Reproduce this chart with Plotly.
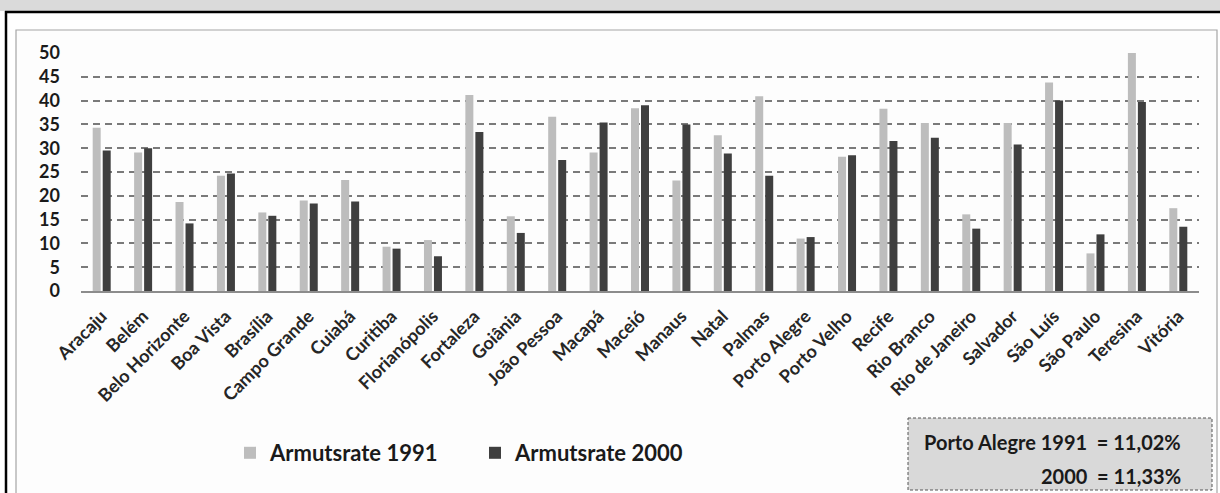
import plotly.graph_objects as go

cities = ["Aracaju", "Belém", "Belo Horizonte", "Boa Vista", "Brasília", "Campo Grande",
          "Cuiabá", "Curitiba", "Florianópolis", "Fortaleza", "Goiânia", "João Pessoa",
          "Macapá", "Maceió", "Manaus", "Natal", "Palmas", "Porto Alegre", "Porto Velho",
          "Recife", "Rio Branco", "Rio de Janeiro", "Salvador", "São Luís", "São Paulo",
          "Teresina", "Vitória"]
rate_1991 = [34.3, 29.1, 18.7, 24.2, 16.5, 19.0, 23.3, 9.3, 10.7, 41.2, 15.7, 36.6, 29.1,
             38.4, 23.2, 32.7, 40.9, 11.02, 28.2, 38.3, 35.3, 16.1, 35.3, 43.8, 7.9, 50.0, 17.4]
rate_2000 = [29.5, 30.0, 14.2, 24.7, 15.8, 18.4, 18.8, 8.9, 7.3, 33.4, 12.2, 27.5, 35.4,
             39.0, 35.0, 28.9, 24.2, 11.33, 28.5, 31.5, 32.2, 13.1, 30.8, 40.0, 11.9, 39.7, 13.5]
y_ticks = list(range(0, 51, 5))

W, H = 1220, 493
L, R, T, B = 81, 1199, 53, 291  # plot area in pixels

def px(x):
    return (x - L) / (R - L)

def py(y):
    return (B - y) / (B - T)

FONT = "Lato"
fig = go.Figure()
fig.add_trace(go.Bar(x=cities, y=rate_1991, name="Armutsrate 1991",
                     marker=dict(color="#bdbdbd", line=dict(width=0))))
fig.add_trace(go.Bar(x=cities, y=rate_2000, name="Armutsrate 2000",
                     marker=dict(color="#3f3f3f", line=dict(width=0))))

shapes = [
    # grey header strip and black frame
    dict(type="rect", xref="paper", yref="paper", x0=px(-5), x1=px(W + 5), y0=py(-5), y1=py(11),
         fillcolor="#dadada", line=dict(width=0), layer="below"),
    dict(type="line", xref="paper", yref="paper", x0=px(5), x1=px(W + 5), y0=py(12), y1=py(12),
         line=dict(color="#000000", width=2.5)),
    dict(type="line", xref="paper", yref="paper", x0=px(6), x1=px(6), y0=py(11), y1=py(H + 5),
         line=dict(color="#000000", width=2.5)),
    # chart box
    dict(type="rect", xref="paper", yref="paper", x0=px(16), x1=px(1217), y0=py(30), y1=py(H + 5),
         fillcolor="#fdfdfd", line=dict(color="#a6a6a6", width=1.2), layer="below"),
    # note box
    dict(type="rect", xref="paper", yref="paper", x0=px(908), x1=px(1212), y0=py(418), y1=py(490),
         fillcolor="#d9d9d9", line=dict(color="#555555", width=1, dash="3px,2px")),
]

note_font = dict(family=FONT, size=20, color="#1a1a1a", weight="bold")
annotations = [
    dict(text="Porto Alegre 1991  = 11,02%", xref="paper", yref="paper", x=px(1183), y=py(442),
         xanchor="right", yanchor="middle", showarrow=False, font=note_font),
    dict(text="2000  = 11,33%", xref="paper", yref="paper", x=px(1183), y=py(476),
         xanchor="right", yanchor="middle", showarrow=False, font=note_font),
]

fig.update_layout(
    width=W, height=H,
    margin=dict(l=L, r=W - R, t=T, b=H - B, pad=0),
    paper_bgcolor="#ffffff", plot_bgcolor="rgba(0,0,0,0)",
    barmode="group", bargap=0.517, bargroupgap=0.2,
    shapes=shapes, annotations=annotations,
    showlegend=True,
    legend=dict(orientation="h", x=px(230), y=py(453), xanchor="left", yanchor="middle",
                font=dict(family=FONT, size=22, color="#1a1a1a", weight="bold"),
                bgcolor="rgba(0,0,0,0)", entrywidth=200, traceorder="normal"),
    xaxis=dict(tickangle=-45, tickfont=dict(family=FONT, size=18, color="#262626", weight="bold"),
               showgrid=False, showline=True, linecolor="#8c8c8c", linewidth=1.5,
               ticks="", zeroline=False, ticklabelstandoff=6),
    yaxis=dict(range=[0, 50], tickvals=y_ticks, ticktext=[str(v) for v in y_ticks],
               tickfont=dict(family=FONT, size=18, color="#1a1a1a", weight="bold"),
               showgrid=True, gridcolor="#7a7a7a", gridwidth=1.5, griddash="7px,5px",
               zeroline=False, showline=False, ticks="", ticklabelstandoff=20),
)

fig.write_html("out.html")
